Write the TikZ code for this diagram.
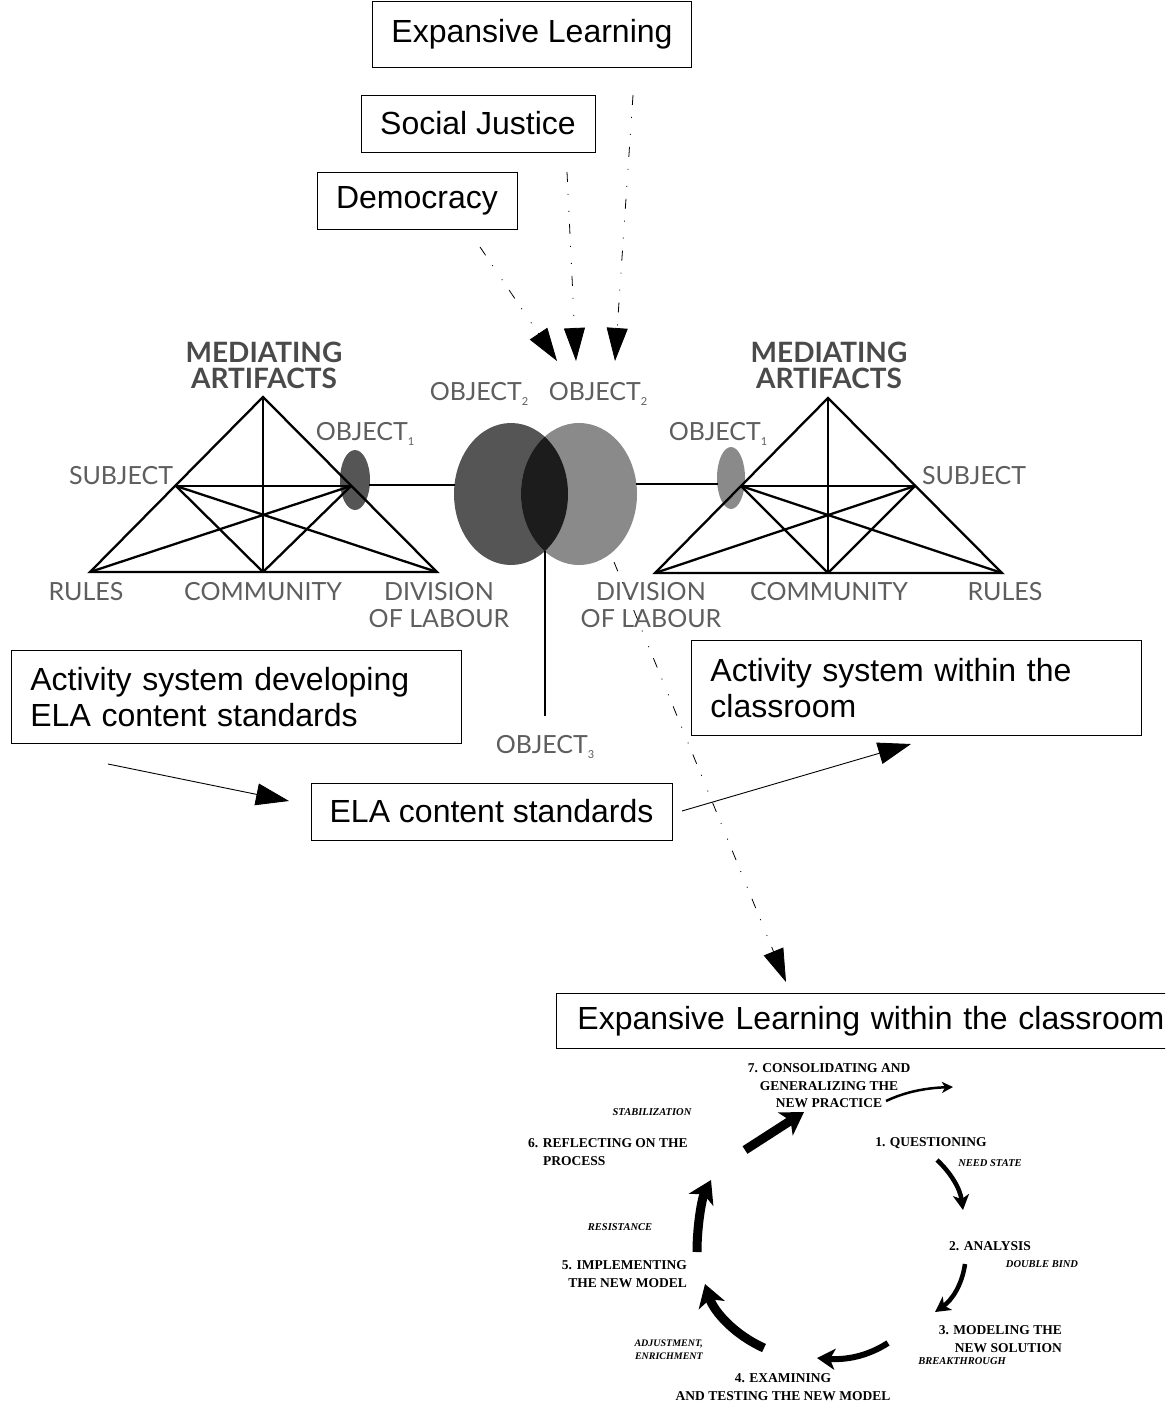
\documentclass[tikz,border=0pt]{standalone}
\usepackage{fontspec}
\setmainfont{Liberation Sans}
\newfontfamily\gillfont{Lato}
\newfontfamily\cycfont{Liberation Serif}
\usetikzlibrary{arrows.meta,shapes.geometric}
\definecolor{lblgray}{HTML}{5E5E5E}
\definecolor{boldgray}{HTML}{4A4A4A}
\definecolor{darkell}{HTML}{555555}
\definecolor{lightell}{HTML}{8A8A8A}
\definecolor{overell}{HTML}{1C1C1C}
\newcommand{\objsub}[1]{\raisebox{-5pt}{\fontsize{11}{11}\selectfont #1}}
\tikzset{
  tbox/.style={draw=black, line width=0.8pt, font=\fontsize{32}{36}\selectfont, inner sep=0pt},
  glab/.style={font=\gillfont\fontsize{25}{27}\selectfont, text=lblgray, inner sep=0pt, align=center},
  gbold/.style={font=\gillfont\bfseries\fontsize{28}{26}\selectfont, text=boldgray, inner sep=0pt, align=center},
  cyc/.style={font=\cycfont\bfseries\fontsize{13.5}{17.5}\selectfont, inner sep=0pt},
  cyci/.style={font=\cycfont\bfseries\itshape\fontsize{10.5}{14}\selectfont, inner sep=0pt},
  dotarr/.style={line width=0.8pt, dash pattern=on 10pt off 12pt on 1pt off 16pt on 1pt off 12pt, -{Triangle[length=33pt,width=21pt]}},
  solarr/.style={line width=0.9pt, -{Triangle[length=33pt,width=22pt]}},
  triline/.style={line width=2.3pt, black},
  cycthick/.style={line width=9pt, -{Stealth[length=22pt,width=27pt,inset=6pt]}},
  cycmid/.style={line width=6pt, -{Stealth[length=18pt,width=21pt,inset=5pt]}},
  cycthin/.style={line width=4.5pt, -{Stealth[length=15pt,width=16pt,inset=4pt]}},
  cycfine/.style={line width=2.5pt, -{Stealth[length=11pt,width=11pt,inset=3pt]}},
  ellnode/.style={ellipse, inner sep=0pt, draw=none}
}
\begin{document}
\begin{tikzpicture}[x=1pt,y=-1pt]
\clip (0,0) rectangle (1165,1404);
\fill[white] (0,0) rectangle (1165,1404);

% ---------------- top boxes ----------------
\node[tbox, minimum width=319pt, minimum height=66pt] (expl) at (532,34) {Expansive Learning};
\node[tbox, minimum width=234pt, minimum height=57pt] (socj) at (478,123.5) {Social Justice};
\node[tbox, minimum width=200pt, minimum height=57pt] (demo) at (417,200.5) {Democracy};

\coordinate (demS) at (480,247);  \coordinate (demT) at (557,361);
\coordinate (socS) at (567,172);  \coordinate (socT) at (576,361);
\coordinate (expS) at (633,95);   \coordinate (expT) at (615,361);
\draw[dotarr] (demS) -- (demT);
\draw[dotarr] (socS) -- (socT);
\draw[dotarr] (expS) -- (expT);

% ---------------- big ellipses ----------------
\node[ellnode, fill=darkell, minimum width=114pt, minimum height=142pt] (lbig) at (511,494) {};
\node[ellnode, fill=lightell, minimum width=116pt, minimum height=142pt] (rbig) at (579,494) {};
\begin{scope}
  \clip (511,494) ellipse [x radius=57, y radius=71];
  \fill[overell] (579,494) ellipse [x radius=58, y radius=71];
\end{scope}
\coordinate (ovbot) at (545,551);
\coordinate (o3top) at (545,716);
\draw[line width=2.5pt] (ovbot) -- (o3top);
\node[glab] (obj3) at (545,747) {OBJECT\objsub{3}};

\node[glab] (lobj2) at (479,394) {OBJECT\objsub{2}};
\node[glab] (robj2) at (598,394) {OBJECT\objsub{2}};

% ---------------- left triangle ----------------
\node[ellnode, fill=darkell, minimum width=30pt, minimum height=60pt] (lobj1) at (355,480) {};
\coordinate (LA) at (263,397);
\coordinate (LS) at (176,486);
\coordinate (LO) at (351,486);
\coordinate (LR) at (90,572);
\coordinate (LC) at (263,572);
\coordinate (LD) at (437,572);
\draw[triline] (LA) -- (LR) -- (LD) -- cycle;
\draw[triline] (LA) -- (LC);
\draw[triline] (LS) -- (LO);
\draw[triline] (LS) -- (LC);
\draw[triline] (LS) -- (LD);
\draw[triline] (LO) -- (LR);
\draw[triline] (LO) -- (LC);
\coordinate (lj1) at (369,485);
\coordinate (lj2) at (455,485);
\draw[line width=2.3pt] (lj1) -- (lj2);

\node[gbold] (lmed) at (264,365) {MEDIATING\\ARTIFACTS};
\node[glab] (lsub) at (121,476) {SUBJECT};
\node[glab] (lob1) at (365,434) {OBJECT\objsub{1}};
\node[glab] (lrul) at (86,592) {RULES};
\node[glab] (lcom) at (263,592) {COMMUNITY};
\node[glab] (ldiv) at (439,605) {DIVISION\\OF LABOUR};

% ---------------- right triangle ----------------
\node[ellnode, fill=lightell, minimum width=28pt, minimum height=62pt] (robj1) at (731,478) {};
\coordinate (RA) at (828,398);
\coordinate (RS) at (915,486);
\coordinate (RO) at (741,486);
\coordinate (RD) at (655,573);
\coordinate (RC) at (828,573);
\coordinate (RR) at (1002,573);
\draw[triline] (RA) -- (RD) -- (RR) -- cycle;
\draw[triline] (RA) -- (RC);
\draw[triline] (RS) -- (RO);
\draw[triline] (RS) -- (RC);
\draw[triline] (RS) -- (RD);
\draw[triline] (RO) -- (RR);
\draw[triline] (RO) -- (RC);
\coordinate (rj1) at (636,484);
\coordinate (rj2) at (718,484);
\draw[line width=2.3pt] (rj1) -- (rj2);

\node[gbold] (rmed) at (829,365) {MEDIATING\\ARTIFACTS};
\node[glab] (rsub) at (974,476) {SUBJECT};
\node[glab] (rob1) at (718,434) {OBJECT\objsub{1}};
\node[glab] (rrul) at (1005,592) {RULES};
\node[glab] (rcom) at (829,592) {COMMUNITY};
\node[glab] (rdiv) at (651,605) {DIVISION\\OF LABOUR};

% ---------------- middle boxes ----------------
\node[tbox, anchor=north west, minimum width=450pt, minimum height=93pt, text width=412pt, inner xsep=19pt, align=left] (asdev) at (11,650) {Activity system developing\\ELA content standards};
\node[tbox, anchor=north west, minimum width=450pt, minimum height=95pt, text width=412pt, inner xsep=19pt, align=left] (aswit) at (691,640) {Activity system within the\\classroom};
\node[tbox, minimum width=361pt, minimum height=57pt] (elacs) at (491.5,811.5) {ELA content standards};

\coordinate (lin) at (108,764);
\coordinate (ltip) at (289,801);
\draw[solarr] (lin) -- (ltip);
\coordinate (rout) at (682,811);
\coordinate (rtip) at (911,744);
\draw[solarr] (rout) -- (rtip);

% dashed arrow to expansive learning within classroom
\coordinate (ddS) at (614,562);
\coordinate (ddT) at (786,982);
\draw[dotarr] (ddS) -- (ddT);

\node[tbox, anchor=north west, minimum width=620pt, minimum height=55pt, text width=590pt, inner xsep=21pt, align=left] (elwc) at (556,993) {Expansive Learning within the classroom};

% ---------------- cycle ----------------
\node[cyc, align=center] (t7) at (829,1086) {7. CONSOLIDATING AND\\GENERALIZING THE\\NEW PRACTICE};
\node[cyc] (t1) at (931,1143) {1. QUESTIONING};
\node[cyci] (i1) at (990,1163) {NEED STATE};
\node[cyc] (t2) at (990,1246) {2. ANALYSIS};
\node[cyci] (i2) at (1042,1264) {DOUBLE BIND};
\node[cyc, align=right, anchor=east] (t3) at (1062,1339) {3. MODELING THE\\NEW SOLUTION};
\node[cyci] (i3) at (962,1361) {BREAKTHROUGH};
\node[cyc, align=center] (t4) at (783,1387) {4. EXAMINING\\AND TESTING THE NEW MODEL};
\node[cyci, align=right, anchor=east, font=\cycfont\bfseries\itshape\fontsize{10}{13}\selectfont] (i4) at (703,1350) {ADJUSTMENT,\\ENRICHMENT};
\node[cyc, align=right, anchor=east] (t5) at (687,1274) {5. IMPLEMENTING\\THE NEW MODEL};
\node[cyci] (i5) at (620,1227) {RESISTANCE};
\node[cyc, align=left, anchor=west] (t6) at (528,1152) {6. REFLECTING ON THE\\\hspace*{15pt}PROCESS};
\node[cyci] (i6) at (652,1112) {STABILIZATION};

\coordinate (c7a) at (886,1101); \coordinate (c7b) at (953,1087);
\coordinate (c1a) at (937,1160); \coordinate (c1b) at (963,1210);
\coordinate (c2a) at (965,1264); \coordinate (c2b) at (935,1312);
\coordinate (c3a) at (888,1343); \coordinate (c3b) at (817,1358);
\coordinate (c4a) at (764,1348); \coordinate (c4b) at (705,1284);
\coordinate (c5a) at (697,1252); \coordinate (c5b) at (711,1180);
\coordinate (c6a) at (745,1150); \coordinate (c6b) at (804,1112);

\draw[cycfine] (c7a) .. controls (905,1092) and (925,1088) .. (c7b);
\draw[cycthin] (c1a) .. controls (950,1172) and (960,1188) .. (c1b);
\draw[cycthin] (c2a) .. controls (962,1285) and (952,1300) .. (c2b);
\draw[cycmid] (c3a) .. controls (866,1357) and (845,1360) .. (c3b);
\draw[cycthick] (c4a) .. controls (735,1335) and (714,1312) .. (c4b);
\draw[cycthick] (c5a) .. controls (697,1225) and (702,1198) .. (c5b);
\draw[cycthick] (c6a) -- (c6b);
\end{tikzpicture}
\end{document}
